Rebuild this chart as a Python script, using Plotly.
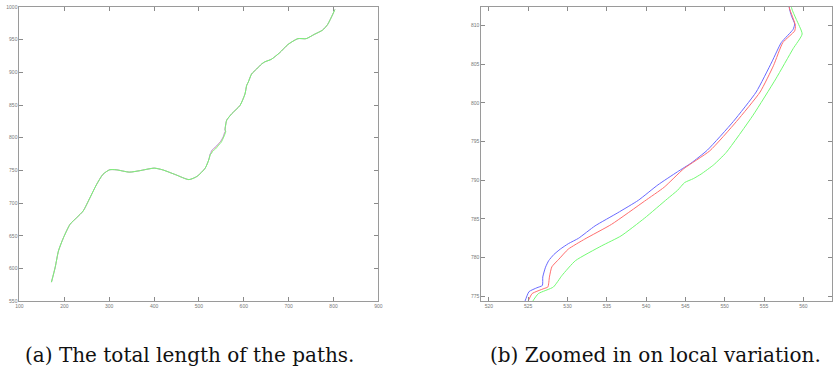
import plotly.graph_objects as go

# Shared start of the three paths (they coincide here)
pre_x = [171.3, 179.7, 187, 198, 212.8, 227.4, 242, 257, 271.5, 286, 301, 315.7,
         345, 367, 400.4, 418.7, 448, 477.7, 496, 514, 521.8]
pre_y = [579.2, 602, 627, 647, 667.7, 677.7, 688, 708, 728, 744, 751, 751,
         747.4, 749.5, 753.5, 751, 743.5, 736, 741, 753.5, 766]

# Section where the paths separate
blue_x = [524.6, 525.1, 526.1, 526.8, 526.85, 527.2, 527.6, 528.24, 529.08, 530.1, 531.4,
          533.5, 536.4, 539, 541.5, 544, 545.7, 547.8, 551.1, 554, 556, 557.2, 558.7,
          558.9, 558.5, 558.2]
blue_y = [774.4, 775.6, 776.1, 776.4, 777.5, 778.76, 779.6, 780.38, 781.1, 781.8, 782.5,
          784.1, 785.8, 787.4, 789.4, 791.1, 792.2, 793.9, 797.6, 801.4, 805.3, 807.8, 809.5,
          810.2, 811.2, 812.4]

red_x = [525, 525.5, 527, 527.5, 527.7, 528, 528.9, 530.1, 532.2, 535.6, 539.8, 542.3,
         544.8, 548.1, 551.5, 554.5, 556.2, 557.4, 558.9, 559, 558.6, 558.2]
red_y = [774.4, 775.35, 776, 776.2, 777.5, 778.8, 779.8, 781.1, 782.4, 784.3, 787.3, 789.1,
         791.5, 793.8, 797.6, 801.4, 804.8, 807.8, 809.3, 810, 811.2, 812.4]

green_x = [525.6, 526.3, 528.2, 529.3, 531, 534.3, 536.8, 539.8, 542.7, 544, 544.9, 546,
           547, 548.6, 550.2, 553.6, 556.5, 558.7, 559.85, 559.1, 558.5]
green_y = [774.4, 775.35, 776.2, 777.7, 779.6, 781.5, 782.8, 785.1, 787.6, 788.7, 789.7, 790.2,
           790.8, 792.0, 793.6, 798.4, 803.1, 807, 808.9, 810.8, 812.3]

# Shared end of the paths
post_x = [558.8, 560.5, 562, 573.3, 591.7, 602.7, 606.4, 610, 617.4, 628.5, 639.5, 646.8,
          661.6, 680, 698.5, 720.5, 739, 757, 775.7, 786.7, 797.8, 803]
post_y = [816, 823, 827, 836.8, 849.5, 867, 880, 885, 897.5, 905, 912.6, 916,
          920, 930, 942.6, 951.5, 951.5, 958, 964.6, 973, 988, 996]

left_xticks = [100, 200, 300, 400, 500, 600, 700, 800, 900]
left_yticks = [550, 600, 650, 700, 750, 800, 850, 900, 950, 1000]
right_xticks = [520, 525, 530, 535, 540, 545, 550, 555, 560]
right_yticks = [775, 780, 785, 790, 795, 800, 805, 810]

captions = ["(a) The total length of the paths.", "(b) Zoomed in on local variation."]

series = [
    ("blue", blue_x, blue_y, "rgb(105,105,255)"),
    ("red", red_x, red_y, "rgb(255,110,110)"),
    ("green", green_x, green_y, "rgb(115,250,115)"),
]

fig = go.Figure()
for name, mx, my, col in series:
    xs = pre_x + mx + post_x
    ys = pre_y + my + post_y
    # overview panel: green drawn last, the others thinner underneath
    w_left = 1.0 if name == "green" else 0.5
    fig.add_trace(go.Scatter(x=xs, y=ys, mode="lines", name=name,
                             line=dict(color=col, width=w_left, shape="spline", smoothing=0.6),
                             xaxis="x", yaxis="y", showlegend=False, hoverinfo="skip"))
    fig.add_trace(go.Scatter(x=xs, y=ys, mode="lines", name=name,
                             line=dict(color=col, width=1, shape="spline", smoothing=0.5),
                             xaxis="x2", yaxis="y2", showlegend=False, hoverinfo="skip"))

axis_style = dict(showgrid=False, zeroline=False, showline=True, mirror="allticks",
                  linecolor="#9a9a9a", linewidth=1, ticks="inside", ticklen=4,
                  tickcolor="#8a8a8a", tickwidth=1,
                  tickfont=dict(size=5, color="#777777", family="Liberation Sans"))

y_dom = [79 / 382, 378 / 382]
cap_font = dict(size=20, family="DejaVu Serif, Liberation Serif, serif", color="#111111")
fig.update_layout(
    width=837, height=382,
    margin=dict(l=0, r=0, t=0, b=0),
    paper_bgcolor="white", plot_bgcolor="white",
    xaxis=dict(domain=[15.6 / 837, 378 / 837], range=[100, 900],
               tickvals=left_xticks, **axis_style),
    yaxis=dict(domain=y_dom, range=[550, 1000], tickvals=left_yticks,
               anchor="x", **axis_style),
    xaxis2=dict(domain=[482 / 837, 836 / 837], range=[519.04, 563.65],
                tickvals=right_xticks, anchor="y2", **axis_style),
    yaxis2=dict(domain=y_dom, range=[774.36, 812.4], tickvals=right_yticks,
                anchor="x2", **axis_style),
    annotations=[
        dict(text=captions[0], x=187 / 837, y=1 - 358 / 382, xref="paper", yref="paper",
             showarrow=False, xanchor="center", yanchor="middle", font=cap_font),
        dict(text=captions[1], x=658 / 837, y=1 - 358 / 382, xref="paper", yref="paper",
             showarrow=False, xanchor="center", yanchor="middle", font=cap_font),
    ],
)

fig.write_html("out.html")
